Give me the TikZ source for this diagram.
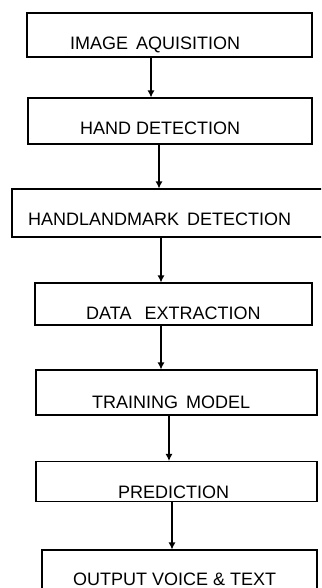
\documentclass[tikz,border=0pt]{standalone}
\usepackage{fontspec}
\setmainfont{Liberation Sans}
\usepackage{tikz}
\usetikzlibrary{arrows.meta}

\begin{document}
\begin{tikzpicture}[x=1pt,y=-1pt,
		blk/.style={draw,line width=1.1pt,inner sep=0pt},
		txt/.style={anchor=base west,inner sep=0pt,font=\fontsize{18}{20}\selectfont},
		flow/.style={line width=1.2pt,-{Latex[length=7pt,width=7pt]}}]
		\useasboundingbox (0,0) rectangle (321,588);
		\clip (0,0) rectangle (321,588);
		% boxes
		\node[blk,minimum width=285pt,minimum height=44pt] (b1) at (169.5,35) {};
		\node[blk,minimum width=284pt,minimum height=46pt] (b2) at (170,121) {};
		\node[blk,minimum width=320pt,minimum height=48pt] (b3) at (172,213) {};
		\node[blk,minimum width=277pt,minimum height=42pt] (b4) at (173.5,304) {};
		\node[blk,minimum width=281pt,minimum height=45pt] (b5) at (176.5,392.5) {};
		\node[blk,minimum width=281pt,minimum height=40pt] (b6) at (176.5,481.5) {};
		\node[blk,minimum width=275pt,minimum height=60pt] (b7) at (179.5,580) {};
		% texts
		\node[txt] (t1) at (70,50) {IMAGE\hspace{3pt} AQUISITION};
		\node[txt] (t2) at (80,135) {HAND DETECTION};
		\node[txt] (t3) at (28,225.5) {HANDLANDMARK\hspace{3pt} DETECTION};
		\node[txt] (t4) at (86,319) {DATA\hspace{8pt} EXTRACTION};
		\node[txt] (t5) at (92,408) {TRAINING\hspace{3pt} MODEL};
		\node[txt] (t6) at (118,498) {PREDICTION};
		\node[txt] (t7) at (73,585.5) {OUTPUT VOICE \& TEXT};
		% arrows
		\draw[flow] (b1.south -| 151,0) -- (b2.north -| 151,0);
		\draw[flow] (b2.south -| 159,0) -- (b3.north -| 159,0);
		\draw[flow] (b3.south -| 161,0) -- (b4.north -| 161,0);
		\draw[flow] (b4.south -| 161,0) -- (b5.north -| 161,0);
		\draw[flow] (b5.south -| 169,0) -- (b6.north -| 169,0);
		\draw[flow] (b6.south -| 172,0) -- (b7.north -| 172,0);
\end{tikzpicture}
\end{document}
